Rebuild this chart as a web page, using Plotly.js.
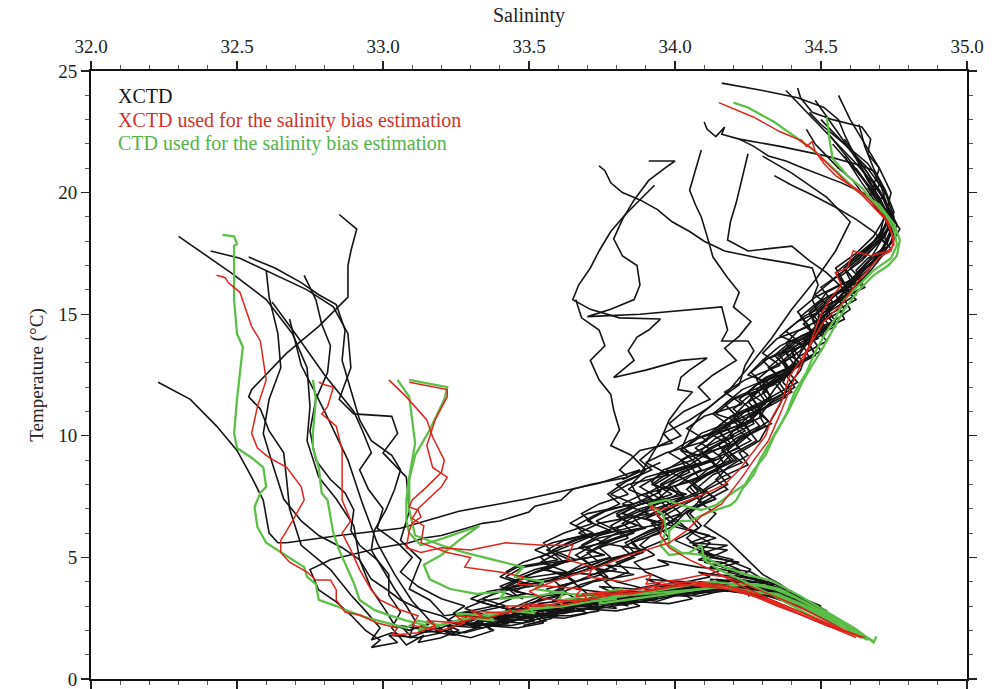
<!DOCTYPE html>
<html>
<head>
<meta charset="utf-8">
<script src="https://cdn.plot.ly/plotly-3.0.1.min.js"></script>
<style>html,body{margin:0;padding:0;background:#fff;}#chart{width:1002px;height:689px;}</style>
</head>
<body>
<div id="chart"></div>
<script>
// ---------- XCTD profiles (black) : salinity / temperature ----------
const xctdL1Sal = [32.30,32.48,32.60,32.69,32.74,32.75,32.74,32.78,32.84,32.90,32.92,32.96,33.01,33.04,33.09,33.16,33.12,33.22,33.30,33.27,33.40,33.52,33.47,33.60,33.70,33.66,33.78,33.86,33.83,33.95,34.05,34.02,34.14,34.22,34.30,34.38,34.35,34.44];
const xctdL1Temp = [18.2,16.7,15.6,14.2,12.8,11.2,9.8,8.3,7.4,6.3,4.9,3.7,2.8,2.2,2.0,2.3,1.9,2.0,2.5,2.2,2.5,2.6,2.9,2.8,3.1,3.3,3.2,3.4,3.6,3.6,3.8,4.0,3.9,4.1,3.8,3.5,3.3,2.9];
const xctdL2Sal = [32.41,32.51,32.74,32.83,32.88,32.89,32.85,32.90,33.03,33.05,33.00,33.08,33.09,33.06,33.13,33.09,33.16,33.21,33.30,33.37,33.33,33.48,33.55,33.52,33.66,33.75,33.72,33.84,33.92,33.90,34.02,34.10,34.08,34.20,34.28,34.25];
const xctdL2Temp = [17.6,17.3,16.0,15.3,14.2,12.8,11.5,10.9,10.8,10.1,9.3,8.3,6.9,5.7,4.9,3.7,3.25,2.6,2.75,2.0,2.4,2.3,2.7,3.0,3.0,3.2,3.4,3.3,3.5,3.7,3.6,3.8,4.0,3.9,3.6,3.4];
const xctdL3Sal = [32.85,32.91,32.89,32.88,32.88,32.78,32.67,32.55,32.54,32.58,32.61,32.66,32.67,32.68,32.72,32.82,32.89,32.94,32.99,32.96,33.03,33.10,33.06,33.15,33.24,33.32,33.28,33.40,33.48,33.45,33.56,33.64];
const xctdL3Temp = [19.1,18.5,17.6,17.0,15.7,14.5,13.4,11.9,11.6,11.1,10.2,9.3,8.2,7.0,5.5,4.5,3.45,2.8,2.1,1.6,1.9,1.7,2.2,2.0,1.8,2.1,2.3,2.2,2.5,2.7,2.6,2.9];
const xctdL4Sal = [32.54,32.63,32.72,32.78,32.84,32.87,32.86,32.89,32.92,32.96,33.03,33.06,33.04,33.01,32.97,32.96,33.00,33.04,33.08,33.11,33.09,33.18,33.25,33.21,33.34,33.44,33.40,33.52,33.60,33.57,33.70,33.78,33.75,33.88,33.96];
const xctdL4Temp = [17.35,16.9,16.3,15.8,15.4,14.35,13.1,11.9,10.65,9.8,9.2,8.6,7.8,6.95,6.1,5.3,4.5,3.7,3.0,2.4,1.7,2.1,1.8,2.3,2.2,2.4,2.6,2.7,2.6,2.9,3.0,3.2,3.4,3.3,3.6];
const xctdL5Sal = [32.60,32.61,32.64,32.65,32.61,32.59,32.62,32.66,32.72,32.78,32.86,32.92,32.96,33.01,33.06,33.13,33.20,33.26,33.35,33.31,33.44,33.58,33.53,33.68,33.78,33.75,33.88,33.96,33.93,34.06,34.15,34.12,34.24,34.32];
const xctdL5Temp = [16.8,15.7,14.2,12.8,11.5,10.1,8.9,7.4,6.5,5.9,5.4,4.9,4.1,3.7,3.25,2.85,2.6,2.2,2.6,2.3,2.8,2.6,3.1,3.3,3.2,3.5,3.6,3.5,3.8,3.9,3.8,4.1,4.0,3.7];
const xctdL6Sal = [32.73,32.77,32.79,32.82,32.81,32.77,32.75,32.77,32.82,32.87,32.90,32.89,32.92,32.98,33.02,33.02,33.06,33.03,33.08,33.14,33.12,33.20,33.26,33.22,33.34,33.42];
const xctdL6Temp = [16.6,15.6,14.6,13.7,12.6,11.5,10.2,9.0,8.2,7.65,6.95,6.1,5.5,4.9,4.3,3.45,2.75,2.1,1.4,1.8,1.5,1.7,2.0,2.2,2.1,2.4];
const xctdL8Sal = [32.23,32.34,32.43,32.50,32.55,32.59,32.61,32.64,32.67,32.85,33.06,33.26,33.49,33.61,33.74,33.88,33.82,33.95];
const xctdL8Temp = [12.2,11.5,10.4,9.4,8.3,7.35,6.0,5.6,5.6,5.9,6.2,6.9,7.4,7.7,8.05,8.6,8.2,8.9];
const xctdL9Sal = [34.30,34.40,34.52,34.60,34.55,34.48,34.40,34.33,34.25,34.18,34.12,34.05,33.96,33.99,33.88,33.81,33.84,33.71,33.65,33.61,33.52,33.50,33.40,33.34,33.30,33.20,33.14,33.09,32.99,32.89,32.82,32.75,32.78,32.84,32.89,32.94,32.99,32.96,33.05,33.02,33.12,33.20];
const xctdL9Temp = [21.5,20.8,19.8,18.8,17.6,16.4,15.2,14.0,12.8,11.8,11.2,10.65,10.1,9.7,9.4,8.6,8.3,8.0,7.8,7.36,7.1,6.87,6.5,6.4,6.25,5.9,5.8,5.6,5.4,5.1,4.9,4.5,3.66,3.17,2.63,2.0,1.6,1.3,1.5,1.8,1.7,1.9];
const xctdL10Sal = [32.62,32.70,32.80,32.90,32.93,32.96,32.92,32.95,33.00,32.98,33.05,33.10,33.06,33.12,33.20,33.28,33.24,33.36,33.46,33.42,33.55,33.64,33.60,33.72,33.82,33.78,33.90,34.00,33.96,34.08,34.18,34.14,34.26];
const xctdL10Temp = [15.5,14.2,12.5,11.0,10.2,9.3,8.6,7.8,7.0,6.2,5.6,5.0,4.4,3.8,3.3,3.0,2.7,2.5,2.6,2.9,2.8,3.0,3.2,3.1,3.3,3.5,3.4,3.6,3.8,3.7,3.9,4.1,3.9];
const xctdL11Sal = [32.68,32.72,32.80,32.88,32.93,32.98,33.04,33.10,33.16,33.22,33.30,33.38,33.35,33.46,33.55,33.52,33.64,33.74,33.70,33.84,33.94,33.90,34.04,34.14,34.22,34.30,34.38,34.46,34.54,34.60];
const xctdL11Temp = [14.8,12.9,11.0,9.0,7.2,5.6,4.3,3.2,2.4,1.9,1.7,2.0,2.2,2.1,2.3,2.6,2.6,2.8,3.1,3.1,3.3,3.5,3.5,3.7,3.7,3.5,3.2,2.8,2.3,2.0];

const xctdB1Sal = [34.16,34.30,34.42,34.51,34.56,34.58,34.60,34.63,34.66,34.70,34.73,34.75,34.72,34.68,34.63,34.58,34.55,34.50,34.48,34.44,34.41,34.38,34.34,34.31,34.28,34.24,34.26,34.19,34.15,34.17,34.10,34.05,34.08,34.00,33.94,33.97,33.88,33.83,33.86,33.78,33.72,33.75,33.66,33.60,33.63,33.55,33.48,33.52,33.44,33.40,33.50,33.46,33.58,33.66,33.62,33.76,33.84,33.80,33.94,34.04,34.00,34.14,34.24,34.33,34.40,34.50,34.56];
const xctdB1Temp = [24.5,24.2,23.9,23.5,23.0,22.4,21.9,21.2,20.5,19.8,19.1,18.5,17.9,17.2,16.6,16.0,15.4,14.8,14.2,13.6,13.0,12.5,11.9,11.4,10.9,10.5,10.1,9.6,9.2,8.8,8.3,7.9,7.5,7.1,6.7,6.3,5.9,5.6,5.2,4.9,4.6,4.3,4.0,3.8,3.5,3.3,3.0,2.8,2.6,2.4,2.5,2.8,2.9,2.8,3.1,3.2,3.0,3.3,3.4,3.6,3.7,3.8,3.7,3.4,3.2,2.7,2.3];
const xctdB2Sal = [34.42,34.43,34.47,34.54,34.64,34.67,34.66,34.70,34.68,34.72,34.74,34.71,34.73,34.66,34.62,34.64,34.57,34.52,34.55,34.47,34.44,34.46,34.39,34.37,34.40,34.32,34.29,34.31,34.22,34.18,34.21,34.12,34.06,34.10,34.02,33.96,34.00,33.92,33.88,33.93,33.86,33.90,33.98,34.05,34.12,34.20,34.26,34.32];
const xctdB2Temp = [24.3,23.9,23.3,23.0,22.7,22.2,21.6,21.0,20.3,19.7,19.0,18.4,17.8,17.3,16.8,16.3,15.8,15.2,14.7,14.2,13.7,13.2,12.7,12.2,11.8,11.3,10.8,10.4,9.9,9.4,9.0,8.5,8.0,7.6,7.1,6.7,6.3,5.9,5.5,5.1,4.8,4.4,4.0,3.8,3.7,3.6,3.5,3.3];
const xctdB3Sal = [34.10,34.11,34.14,34.17,34.16,34.22,34.36,34.52,34.64,34.68,34.70,34.66,34.72,34.74,34.70,34.62,34.58,34.60,34.52,34.48,34.50,34.42,34.38,34.41,34.33,34.28,34.31,34.24,34.20,34.23,34.14,34.09,34.12,34.03,33.98,34.01,33.92,33.86,33.89,33.80,33.74,33.78,33.68,33.62,33.66,33.56,33.60,33.50,33.45,33.40,33.52,33.60,33.70,33.80,33.90,34.00,34.10,34.20,34.30];
const xctdB3Temp = [22.9,22.6,22.3,22.7,22.4,22.2,21.9,21.5,21.1,20.9,20.3,19.8,19.2,18.6,18.0,17.4,16.9,16.4,15.9,15.3,14.8,14.3,13.8,13.3,12.8,12.3,11.8,11.3,10.8,10.4,9.9,9.4,9.0,8.5,8.0,7.6,7.1,6.6,6.2,5.8,5.4,5.0,4.7,4.3,4.0,3.7,3.4,3.1,2.8,2.6,2.7,3.0,3.1,3.3,3.5,3.7,3.9,4.1,3.9];
const xctdB4Sal = [34.22,34.27,34.32,34.38,34.44,34.57,34.66,34.69,34.73,34.70,34.74,34.68,34.62,34.65,34.56,34.52,34.55,34.46,34.41,34.44,34.36,34.30,34.33,34.25,34.20,34.24,34.16,34.10,34.14,34.06,34.00,34.03,33.95,33.90,33.96,33.88,33.82,33.86,33.78,33.74,33.80,33.90,34.00,34.08,34.15,34.22];
const xctdB4Temp = [22.2,21.9,21.5,21.3,21.0,20.4,19.9,19.3,18.8,18.2,17.7,17.2,16.6,16.1,15.6,15.0,14.5,14.0,13.5,13.0,12.5,12.0,11.6,11.1,10.6,10.2,9.7,9.3,8.8,8.4,7.9,7.5,7.0,6.6,6.2,5.8,5.4,5.0,4.6,4.3,4.0,3.7,3.5,3.4,3.6,3.8];
const xctdB5Sal = [34.25,34.23,34.21,34.19,34.18,34.25,34.33,34.40,34.46,34.52,34.58,34.55,34.49,34.52,34.44,34.38,34.41,34.33,34.28,34.31,34.22,34.17,34.20,34.12,34.06,34.09,34.00,33.94,33.98,33.88,33.82,33.86,33.76,33.70,33.74,33.64,33.58,33.62,33.54,33.48,33.42,33.36,33.44,33.52,33.62,33.70,33.80,33.90,34.00,34.10,34.18,34.28,34.36,34.45,34.52];
const xctdB5Temp = [21.6,20.6,19.6,18.8,18.05,17.6,17.7,17.8,17.2,16.7,16.0,15.4,14.9,14.4,13.9,13.4,12.9,12.4,11.9,11.4,10.9,10.4,10.0,9.5,9.0,8.6,8.1,7.7,7.2,6.8,6.4,6.0,5.6,5.2,4.8,4.4,4.1,3.7,3.4,3.1,2.8,2.5,2.4,2.6,2.7,2.9,3.1,3.3,3.5,3.6,3.9,3.8,3.4,3.0,2.6];
const xctdB6Sal = [34.09,34.07,34.05,34.07,34.09,34.11,34.13,34.18,34.22,34.20,34.26,34.22,34.17,34.21,34.13,34.08,34.12,34.03,33.98,34.02,33.93,33.88,33.92,33.83,33.77,33.81,33.72,33.66,33.70,33.60,33.54,33.58,33.48,33.42,33.46,33.38,33.46,33.42,33.55,33.63,33.60,33.72,33.82,33.78,33.92,34.02];
const xctdB6Temp = [21.75,20.9,20.1,19.5,19.0,18.2,17.35,16.5,15.9,15.3,14.7,14.1,13.6,13.1,12.5,12.0,11.5,11.0,10.5,10.0,9.5,9.0,8.6,8.1,7.6,7.2,6.7,6.3,5.9,5.4,5.0,4.6,4.2,3.8,3.4,3.0,2.8,2.5,2.6,2.9,3.1,3.2,3.1,3.4,3.5,3.7];
const xctdB7Sal = [34.46,34.50,34.55,34.60,34.66,34.70,34.72,34.75,34.73,34.70,34.66,34.61,34.57,34.60,34.53,34.47,34.50,34.43,34.38,34.41,34.34,34.29,34.32,34.26,34.21,34.25,34.18,34.14,34.18,34.10,34.05,34.09,34.04,34.08,34.13,34.10,34.17,34.22,34.20,34.28,34.33,34.38,34.44,34.40,34.48,34.55,34.60];
const xctdB7Temp = [23.3,22.8,22.3,21.8,21.2,20.5,19.7,18.9,18.1,17.4,16.8,16.3,15.8,15.2,14.6,14.0,13.5,13.0,12.5,12.0,11.5,11.0,10.6,10.1,9.6,9.2,8.7,8.2,7.8,7.3,6.8,6.3,5.8,5.4,5.1,4.8,4.6,4.4,4.1,3.9,3.6,3.5,3.3,3.4,3.0,2.5,2.1];
const xctdB8Sal = [34.34,34.40,34.47,34.55,34.62,34.68,34.72,34.70,34.64,34.59,34.62,34.54,34.48,34.51,34.42,34.37,34.40,34.31,34.26,34.29,34.20,34.15,34.19,34.10,34.05,34.08,33.99,33.94,33.98,33.90,34.02,34.12,34.05,34.18,34.10,34.20,34.12,34.25,34.30,34.36,34.42,34.50,34.56];
const xctdB8Temp = [20.7,20.3,19.9,19.4,18.9,18.4,17.9,17.3,16.8,16.3,15.8,15.2,14.7,14.2,13.6,13.1,12.6,12.1,11.6,11.1,10.6,10.2,9.7,9.2,8.8,8.3,7.9,7.4,7.0,6.6,6.2,5.9,5.6,5.5,5.2,4.9,4.6,4.3,4.0,3.7,3.3,2.8,2.4];
const xctdB9Sal = [34.58,34.62,34.66,34.70,34.73,34.76,34.74,34.71,34.67,34.63,34.59,34.56,34.58,34.50,34.46,34.48,34.40,34.35,34.38,34.30,34.26,34.29,34.21,34.16,34.19,34.11,34.06,34.10,34.01,33.96,34.00,33.91,33.85,33.88,33.79,33.73,33.77,33.68,33.62,33.66,33.58,33.52,33.56,33.48,33.58,33.55,33.68,33.75,33.72,33.86,33.95,33.92,34.05,34.15,34.12,34.25,34.35,34.42,34.40,34.48];
const xctdB9Temp = [22.2,21.5,20.8,20.1,19.4,18.7,18.0,17.4,16.8,16.3,15.8,15.3,14.8,14.3,13.8,13.3,12.8,12.3,11.8,11.3,10.8,10.4,9.9,9.4,9.0,8.6,8.1,7.7,7.3,6.9,6.5,6.1,5.7,5.3,4.9,4.6,4.2,3.9,3.6,3.3,3.0,2.7,2.4,2.2,2.5,2.7,2.8,3.1,3.2,3.3,3.5,3.6,3.7,3.8,3.9,3.8,3.5,3.1,3.2,2.7];
const xctdB10Sal = [34.70,34.72,34.69,34.74,34.77,34.74,34.69,34.66,34.60,34.58,34.52,34.50,34.45,34.43,34.37,34.39,34.31,34.33,34.25,34.27,34.19,34.22,34.12,34.15,34.05,34.08,33.98,34.02,33.92,33.95,33.85,33.89,33.80,33.84,33.76,33.80,33.72,33.66,33.74,33.84,33.94,34.04,34.14,34.24,34.34];
const xctdB10Temp = [20.5,20.0,19.5,19.0,18.5,17.9,17.3,16.8,16.2,15.7,15.1,14.6,14.0,13.5,13.0,12.5,12.0,11.5,11.0,10.5,10.0,9.5,9.0,8.6,8.1,7.7,7.2,6.8,6.4,6.0,5.6,5.2,4.8,4.4,4.0,3.6,3.3,3.0,2.9,3.1,3.3,3.5,3.7,3.9,3.6];
const xctdB11Sal = [34.45,34.48,34.52,34.56,34.61,34.64,34.69,34.72,34.74,34.71,34.67,34.62,34.64,34.56,34.50,34.53,34.45,34.40,34.43,34.35,34.30,34.33,34.25,34.21,34.26,34.18,34.14,34.19,34.11,34.08,34.14,34.10,34.18,34.25,34.30,34.36,34.42,34.47,34.52,34.58,34.63];
const xctdB11Temp = [22.6,22.0,21.5,21.0,20.5,20.0,19.4,18.9,18.3,17.7,17.1,16.6,16.1,15.5,15.0,14.5,13.9,13.4,12.9,12.3,11.8,11.3,10.8,10.3,9.8,9.3,8.8,8.3,7.8,7.3,6.8,6.3,5.7,4.9,4.3,3.9,3.4,3.1,2.7,2.3,1.9];
const xctdB12Sal = [34.63,34.65,34.68,34.72,34.75,34.73,34.70,34.67,34.63,34.60,34.55,34.51,34.47,34.49,34.41,34.36,34.39,34.30,34.25,34.28,34.19,34.14,34.17,34.08,34.02,34.05,33.96,33.90,33.94,33.84,33.78,33.82,33.72,33.66,33.71,33.62,33.70,33.78,33.86,33.94,34.02];
const xctdB12Temp = [22.8,21.9,21.0,20.1,19.2,18.5,17.9,17.3,16.8,16.3,15.8,15.3,14.8,14.3,13.8,13.3,12.8,12.3,11.8,11.3,10.8,10.3,9.9,9.4,9.0,8.5,8.0,7.6,7.2,6.7,6.3,5.9,5.5,5.1,4.7,4.3,3.5,3.1,3.3,3.2,3.5];
const xctdB13Sal = [34.48,34.55,34.62,34.68,34.73,34.70,34.64,34.56,34.60,34.50,34.44,34.49,34.38,34.32,34.37,34.26,34.20,34.25,34.13,34.07,34.12,34.00,33.93,33.99,33.86,33.80,33.87,33.74,33.68,33.75,33.62,33.56,33.63,33.50,33.45,33.54,33.62,33.58,33.70,33.78,33.74,33.86,33.95,33.90,34.04,34.12,34.08,34.22,34.32,34.28,34.40,34.48];
const xctdB13Temp = [23.8,22.6,21.4,20.2,19.0,18.0,17.2,16.5,15.9,15.2,14.6,14.0,13.4,12.8,12.3,11.7,11.1,10.6,10.0,9.5,9.0,8.5,8.0,7.6,7.1,6.7,6.3,5.9,5.5,5.1,4.8,4.5,4.2,3.9,3.6,3.4,3.5,3.2,3.3,3.6,3.8,3.7,3.9,4.1,4.0,4.2,4.4,4.1,3.9,3.6,3.3,2.9];
const xctdB14Sal = [34.56,34.60,34.65,34.70,34.74,34.72,34.68,34.62,34.55,34.58,34.48,34.42,34.46,34.35,34.30,34.36,34.24,34.17,34.23,34.10,34.04,34.11,33.97,33.90,33.98,33.84,33.78,33.86,33.70,33.64,33.72,33.58,33.52,33.60,33.46,33.40,33.48,33.38,33.32,33.42,33.50,33.46,33.58,33.66,33.62,33.74,33.82,33.78,33.92,34.00,33.96,34.10,34.18,34.14,34.26,34.34,34.42,34.50,34.56];
const xctdB14Temp = [24.0,23.0,22.0,21.0,20.0,19.0,18.2,17.5,16.9,16.3,15.7,15.1,14.5,14.0,13.4,12.9,12.3,11.8,11.3,10.8,10.3,9.8,9.3,8.9,8.4,8.0,7.6,7.2,6.8,6.4,6.0,5.6,5.3,4.9,4.6,4.2,3.9,3.5,3.2,2.9,2.7,2.5,2.7,2.8,3.0,3.1,3.2,3.4,3.5,3.4,3.7,3.8,3.6,3.9,3.7,3.5,3.2,2.8,2.4];
const xctdB15Sal = [34.50,34.58,34.66,34.72,34.75,34.71,34.66,34.60,34.54,34.48,34.53,34.42,34.36,34.44,34.30,34.25,34.34,34.20,34.14,34.24,34.08,34.02,34.14,33.98,33.92,34.04,33.88,33.82,33.96,33.80,33.74,33.90,33.76,33.70,33.86,33.72,33.66,33.80,33.68,33.62,33.76,33.86,33.80,33.96,34.06,34.00,34.16,34.24,34.20,34.32,34.40];
const xctdB15Temp = [23.0,22.0,21.0,20.0,19.0,18.2,17.6,17.0,16.4,15.8,15.3,14.7,14.1,13.7,13.1,12.5,12.1,11.5,10.9,10.5,9.9,9.4,9.0,8.5,8.0,7.6,7.2,6.8,6.4,6.0,5.6,5.3,4.9,4.6,4.3,4.0,3.7,3.5,3.2,3.0,3.1,3.4,3.5,3.6,3.8,3.9,4.0,3.8,3.6,3.4,3.1];
const xctdB16Sal = [34.60,34.66,34.71,34.75,34.73,34.69,34.64,34.58,34.62,34.53,34.48,34.52,34.43,34.38,34.42,34.33,34.28,34.33,34.23,34.18,34.23,34.13,34.08,34.14,34.04,34.00,34.08,34.14,34.06,34.18,34.12,34.22,34.16,34.26,34.30,34.24,34.34,34.40,34.36,34.46,34.52,34.48,34.58,34.62];
const xctdB16Temp = [21.8,20.8,19.8,18.8,18.0,17.3,16.7,16.1,15.6,15.0,14.4,13.9,13.3,12.7,12.2,11.6,11.0,10.5,9.9,9.4,8.9,8.4,7.9,7.4,6.9,6.4,6.0,5.8,5.5,5.3,5.0,4.8,4.6,4.4,4.1,3.9,3.8,3.6,3.4,3.2,2.8,2.7,2.3,2.0];
const xctdB17Sal = [34.38,34.46,34.54,34.62,34.70,34.74,34.70,34.64,34.58,34.62,34.52,34.46,34.50,34.40,34.35,34.40,34.30,34.25,34.30,34.20,34.15,34.20,34.10,34.04,34.10,34.00,34.06,34.12,34.08,34.20,34.26,34.22,34.32,34.38,34.34,34.44,34.50,34.46,34.55,34.60];
const xctdB17Temp = [24.2,23.2,22.2,21.2,20.1,19.0,18.2,17.5,16.9,16.3,15.6,15.0,14.4,13.8,13.2,12.6,12.0,11.4,10.8,10.2,9.6,9.0,8.4,7.8,7.2,6.6,6.0,5.6,5.2,4.8,4.5,4.2,4.0,3.7,3.5,3.3,3.0,2.8,2.5,2.2];
const xctdB18Sal = [34.52,34.60,34.67,34.73,34.70,34.63,34.57,34.50,34.54,34.44,34.38,34.43,34.32,34.26,34.31,34.19,34.13,34.19,34.05,33.98,34.05,33.90,33.84,33.92,33.76,33.70,33.78,33.62,33.56,33.64,33.48,33.42,33.50,33.36,33.30,33.38,33.26,33.22,33.32,33.40,33.36,33.50,33.58,33.54,33.66,33.76,33.72,33.85,33.94,33.90,34.04,34.12,34.20,34.16,34.28,34.36];
const xctdB18Temp = [22.5,21.3,20.1,19.0,18.1,17.3,16.7,16.1,15.5,14.9,14.3,13.8,13.2,12.6,12.1,11.5,10.9,10.4,9.8,9.3,8.8,8.3,7.8,7.4,6.9,6.5,6.1,5.7,5.3,4.9,4.6,4.2,3.9,3.6,3.3,3.0,2.7,2.4,2.2,2.4,2.6,2.5,2.7,2.9,2.8,3.0,3.2,3.1,3.3,3.5,3.4,3.6,3.8,3.9,3.7,3.4];
const xctdB19Sal = [34.62,34.68,34.74,34.72,34.66,34.60,34.64,34.55,34.49,34.54,34.43,34.37,34.43,34.31,34.25,34.31,34.18,34.12,34.19,34.04,33.97,34.05,33.89,33.82,33.91,33.74,33.67,33.76,33.60,33.54,33.63,33.46,33.40,33.49,33.34,33.28,33.36,33.24,33.18,33.28,33.34,33.30,33.44,33.52,33.48,33.62,33.70,33.66,33.80,33.88,33.84,33.98,34.06,34.02,34.16,34.24];
const xctdB19Temp = [21.0,20.0,19.0,18.2,17.5,16.9,16.4,15.8,15.2,14.7,14.1,13.5,13.0,12.4,11.8,11.3,10.7,10.1,9.6,9.1,8.6,8.1,7.6,7.2,6.8,6.4,6.0,5.6,5.2,4.8,4.4,4.1,3.8,3.5,3.2,2.9,2.6,2.3,2.0,1.9,2.1,2.3,2.2,2.4,2.6,2.5,2.7,2.9,2.8,3.0,3.2,3.1,3.3,3.5,3.6,3.8];
const xctdB20Sal = [34.58,34.64,34.70,34.74,34.71,34.65,34.60,34.55,34.58,34.49,34.44,34.48,34.39,34.34,34.38,34.29,34.24,34.28,34.19,34.14,34.18,34.09,34.04,34.08,34.00,34.06,34.12,34.08,34.16,34.22,34.18,34.28,34.34,34.30,34.40,34.46,34.42,34.52,34.57,34.62];
const xctdB20Temp = [21.5,20.4,19.4,18.5,17.7,17.0,16.4,15.8,15.2,14.6,14.0,13.4,12.8,12.2,11.6,11.0,10.4,9.8,9.2,8.6,8.0,7.4,6.8,6.2,5.7,5.4,5.1,4.9,4.8,4.5,4.4,4.1,3.9,3.8,3.4,3.1,3.0,2.6,2.3,2.0];
const xctdB21Sal = [34.66,34.72,34.70,34.64,34.58,34.62,34.52,34.46,34.51,34.40,34.34,34.40,34.28,34.22,34.28,34.15,34.09,34.16,34.02,33.95,34.03,33.88,33.81,33.90,33.74,33.67,33.76,33.60,33.54,33.64,33.50,33.44,33.56,33.64,33.58,33.72,33.80,33.76,33.90,33.98,33.94,34.08,34.16,34.12,34.24,34.32,34.40,34.48,34.54];
const xctdB21Temp = [20.2,19.2,18.2,17.5,16.9,16.3,15.7,15.1,14.5,13.9,13.3,12.7,12.1,11.5,10.9,10.3,9.7,9.1,8.5,8.0,7.5,7.0,6.6,6.2,5.8,5.4,5.1,4.8,4.5,4.3,4.0,3.8,4.0,4.2,4.4,4.3,4.5,4.7,4.5,4.7,4.9,4.6,4.5,4.3,4.2,3.9,3.5,3.0,2.6];
const xctdB22Sal = [34.54,34.62,34.70,34.73,34.68,34.61,34.55,34.59,34.49,34.43,34.47,34.36,34.30,34.35,34.23,34.17,34.22,34.09,34.03,34.09,33.95,33.88,33.95,33.80,33.73,33.80,33.65,33.58,33.66,33.52,33.46,33.55,33.40,33.34,33.42,33.30,33.26,33.34,33.42,33.38,33.50,33.60,33.56,33.70,33.80,33.76,33.90,34.00,33.96,34.10];
const xctdB22Temp = [22.0,20.9,19.8,18.8,18.0,17.3,16.7,16.1,15.5,14.9,14.3,13.7,13.1,12.5,11.9,11.3,10.7,10.1,9.5,8.9,8.4,7.9,7.4,6.9,6.5,6.1,5.7,5.3,4.9,4.5,4.2,3.9,3.6,3.3,3.0,2.7,2.3,2.1,2.3,2.5,2.4,2.6,2.9,3.0,2.9,3.2,3.3,3.5,3.7,3.6];

const xctdW1Sal = [33.74,33.76,33.78,33.82,33.88,33.94,33.99,34.05,34.10,34.17,34.29,34.39,34.47,34.49,34.47,34.50,34.48,34.45,34.43,34.39,34.36,34.33,34.29,34.22,34.25,34.16,34.10,34.14,34.04,34.00,33.95,33.98,33.90,33.85,33.78,33.70,33.62,33.55,33.50,33.58,33.66];
const xctdW1Temp = [21.1,20.9,20.4,20.0,19.7,19.3,18.8,18.4,18.0,17.6,17.3,17.1,16.9,16.2,15.6,14.8,14.1,13.4,12.7,12.1,11.3,10.65,9.8,9.3,8.8,8.3,7.8,7.4,7.0,6.6,6.2,5.8,5.4,5.0,4.6,4.2,3.8,3.4,3.0,2.8,2.9];
const xctdW2Sal = [33.91,34.00,33.97,33.91,33.86,33.82,33.79,33.82,33.87,33.88,33.86,33.78,33.70,33.88,34.16,34.18,34.16,34.25,34.27,34.24,34.22,34.15,34.09,34.05,34.02,34.06,33.96,33.92,33.95,33.86,33.80,33.84,33.74,33.66,33.58,33.62,33.52,33.46,33.40,33.48];
const xctdW2Temp = [21.3,21.3,21.05,20.5,19.7,18.9,18.1,17.4,17.0,16.2,15.6,15.2,14.9,15.0,15.3,14.35,13.9,13.9,13.5,12.9,12.1,11.5,10.9,10.24,9.4,9.0,8.6,8.1,7.7,7.2,6.8,6.4,6.0,5.6,5.2,4.8,4.4,4.0,3.6,3.3];
const xctdW3Sal = [33.93,33.88,33.83,33.78,33.74,33.71,33.67,33.65,33.71,33.81,33.95,33.91,33.87,33.84,33.86,33.79,33.90,34.02,34.11,34.05,34.02,34.01,34.06,34.02,33.98,33.95,33.91,33.88,33.80,33.84,33.74,33.68,33.72,33.62,33.55,33.58,33.48,33.42];
const xctdW3Temp = [20.3,19.7,19.1,18.4,17.6,16.9,16.2,15.6,15.2,14.85,14.8,14.35,14.06,13.5,13.1,12.4,12.7,13.1,13.2,12.7,12.4,11.9,11.8,11.3,10.65,9.8,9.0,8.4,8.0,7.6,7.2,6.8,6.4,6.0,5.6,5.2,4.8,4.4];
const xctdW4Sal = [33.66,33.68,33.74,33.76,33.71,33.74,33.78,33.79,33.81,33.78,33.85,33.90,33.85,33.88,33.95,33.88,33.80,33.84,33.74,33.68,33.72,33.62];
const xctdW4Temp = [15.6,14.85,14.35,13.7,13.1,12.3,11.7,11.06,10.24,9.6,9.2,8.6,8.0,7.36,6.95,6.6,6.2,5.8,5.4,5.0,4.6,4.2];

// ---------- XCTD used for the salinity bias estimation (red) ----------
const biasXctd1Sal = [32.43,32.46,32.47,32.51,32.55,32.58,32.60,32.57,32.55,32.57,32.61,32.67,32.72,32.73,32.69,32.65,32.65,32.68,32.74,32.77,32.82,32.84,32.84,32.87,32.92,32.98,33.05,33.03,33.12,33.18,33.15,33.26,33.34,33.30,33.42,33.50,33.48,33.60,33.68,33.75,33.72,33.85,33.93,34.02,34.10,34.18,34.27,34.35,34.44,34.52,34.60,34.65];
const biasXctd1Temp = [16.6,16.5,16.3,15.9,14.5,13.9,12.3,11.2,10.1,9.5,9.1,8.7,7.9,7.36,6.5,5.7,5.2,4.8,4.4,4.07,4.07,3.66,3.25,2.75,2.63,2.3,2.1,1.8,1.9,2.2,2.4,2.3,2.6,2.8,2.7,2.9,3.1,3.0,3.2,3.4,3.5,3.5,3.7,3.9,3.8,3.7,3.4,3.0,2.6,2.2,1.9,1.7];
const biasXctd2Sal = [32.78,32.80,32.83,32.81,32.79,32.84,32.86,32.86,32.86,32.89,32.86,32.89,32.92,32.96,32.99,33.06,33.12,33.10,33.20,33.28,33.25,33.36,33.44,33.42,33.55,33.63,33.70,33.68,33.80,33.88,33.97,34.06,34.15,34.22,34.30,34.38,34.46,34.54,34.62];
const biasXctd2Temp = [12.2,12.1,12.0,11.2,10.9,10.4,9.4,8.4,7.36,6.5,6.0,5.3,4.5,3.66,3.25,2.84,2.6,2.2,2.0,2.3,2.6,2.5,2.8,3.0,3.0,3.2,3.3,3.5,3.6,3.7,3.9,4.0,3.9,3.7,3.4,3.0,2.6,2.2,1.8];
const biasXctd3Sal = [33.02,33.08,33.15,33.17,33.21,33.20,33.15,33.10,33.09,33.12,33.13,33.10,33.09,33.08,33.13,33.20,33.30,33.42,33.55,33.65,33.63,33.72,33.70,33.82,33.92,33.90,34.02,34.10,34.18,34.26,34.34,34.42,34.50,34.58,34.64];
const biasXctd3Temp = [12.3,11.6,10.65,9.95,9.0,8.5,7.9,7.36,7.07,6.95,6.66,6.4,6.1,5.4,5.2,5.4,5.3,5.6,5.5,5.5,4.9,4.6,4.2,4.0,4.3,3.9,4.1,4.3,4.2,3.8,3.4,3.0,2.5,2.0,1.7];
const biasXctd4Sal = [33.09,33.22,33.22,33.18,33.15,33.17,33.22,33.20,33.12,33.10,33.14,33.13,33.22,33.30,33.28,33.40,33.48,33.46,33.58,33.68,33.66,33.78,33.88,33.96,34.05,34.14,34.22,34.30,34.38,34.46,34.54,34.62];
const biasXctd4Temp = [12.2,11.9,11.6,10.7,9.6,8.7,8.3,7.9,7.0,6.6,6.3,5.6,5.2,5.0,4.6,4.4,4.2,3.9,3.8,3.7,3.4,3.5,3.7,3.9,4.0,3.8,3.6,3.3,2.9,2.5,2.1,1.7];
const biasXctd5Sal = [34.15,34.19,34.27,34.36,34.42,34.47,34.54,34.59,34.64,34.69,34.73,34.74,34.75,34.74,34.70,34.63,34.57,34.51,34.47,34.43,34.40,34.36,34.32,34.27,34.23,34.16,34.09,34.04,33.98,33.90,33.82,33.74,33.66,33.58,33.50,33.55,33.64,33.72,33.80,33.90,34.00,34.10,34.18,34.26,34.35,34.44,34.52,34.60,34.64];
const biasXctd5Temp = [23.7,23.5,23.1,22.5,22.2,21.8,21.0,20.4,20.0,19.4,18.8,18.4,18.05,17.6,17.35,16.4,15.4,14.7,13.9,12.9,12.1,10.9,9.8,9.0,8.3,7.2,6.7,6.1,5.6,5.3,5.0,4.6,4.3,4.0,3.6,3.3,3.2,3.3,3.5,3.6,3.8,3.9,3.8,3.5,3.1,2.6,2.2,1.9,1.7];
const biasXctd6Sal = [34.43,34.45,34.47,34.48,34.51,34.55,34.60,34.64,34.68,34.72,34.74,34.75,34.73,34.67,34.61,34.59,34.55,34.57,34.53,34.50,34.48,34.46,34.43,34.39,34.37,34.33,34.31,34.26,34.22,34.17,34.10,34.05,34.00,33.95,33.91,33.96,33.95,33.98,34.05,34.14,34.22,34.33,34.43,34.53,34.62];
const biasXctd6Temp = [22.2,21.9,22.1,21.7,21.2,20.7,20.3,19.9,19.4,18.9,18.4,17.85,17.6,17.4,17.6,16.9,16.7,16.2,15.6,15.0,14.35,13.7,13.1,12.4,11.55,10.7,10.0,9.2,8.6,8.0,7.6,7.36,7.15,6.95,7.15,6.5,5.9,5.4,4.9,4.4,3.87,3.25,2.75,2.2,1.8];

// ---------- CTD used for the salinity bias estimation (green) ----------
const ctd1Sal = [32.45,32.49,32.50,32.49,32.49,32.50,32.52,32.51,32.50,32.49,32.50,32.55,32.59,32.60,32.58,32.56,32.57,32.60,32.65,32.69,32.73,32.74,32.77,32.78,32.84,32.89,32.95,33.02,33.08,33.12,33.20,33.28,33.25,33.36,33.45,33.52,33.50,33.62,33.72,33.80,33.78,33.90,34.00,34.08,34.18,34.26,34.35,34.45,34.55,34.63,34.68];
const ctd1Temp = [18.26,18.2,17.9,17.8,15.6,14.2,13.65,12.6,11.5,10.1,9.5,9.1,8.7,7.9,7.65,7.07,6.25,5.6,5.2,4.9,4.6,4.2,3.9,3.25,3.0,2.75,2.5,2.3,2.1,2.4,2.2,2.5,2.7,2.6,2.8,2.7,2.9,3.0,3.2,3.3,3.4,3.5,3.6,3.7,3.8,3.6,3.5,3.0,2.4,1.9,1.55];
const ctd2Sal = [32.76,32.77,32.76,32.76,32.78,32.79,32.81,32.83,32.85,32.90,32.92,32.97,33.02,33.08,33.15,33.12,33.22,33.30,33.38,33.35,33.46,33.55,33.62,33.60,33.72,33.82,33.90,34.00,34.08,34.16,34.24,34.33,34.42,34.50,34.58,34.66];
const ctd2Temp = [12.3,11.5,10.1,9.5,8.7,7.65,7.36,6.0,5.3,3.95,3.25,2.84,2.63,2.4,2.2,2.0,2.3,2.5,2.4,2.7,2.8,2.9,3.0,3.2,3.3,3.4,3.6,3.8,3.9,3.8,3.6,3.5,3.1,2.6,2.1,1.6];
const ctd3Sal = [33.05,33.09,33.10,33.11,33.09,33.08,33.08,33.09,33.13,33.21,33.33,33.26,33.20,33.14,33.16,33.23,33.32,33.42,33.40,33.52,33.62,33.60,33.72,33.82,33.80,33.92,34.02,34.12,34.20,34.28,34.36,34.44,34.52,34.60,34.67];
const ctd3Temp = [12.3,11.6,10.65,9.7,8.3,7.36,6.5,6.0,5.5,5.8,6.3,5.7,5.1,4.7,4.1,3.7,3.5,3.6,3.3,3.4,3.6,3.2,3.5,3.7,3.4,3.6,3.8,4.0,3.9,3.9,3.7,3.2,2.65,2.1,1.6];
const ctd4Sal = [33.09,33.22,33.21,33.16,33.11,33.09,33.09,33.11,33.20,33.28,33.38,33.48,33.45,33.55,33.52,33.64,33.76,33.74,33.86,33.98,34.08,34.18,34.26,34.34,34.42,34.50,34.58,34.65];
const ctd4Temp = [12.3,12.0,11.5,10.24,9.2,8.2,6.95,5.9,5.5,5.2,4.9,4.6,4.2,4.0,3.7,3.5,3.4,3.1,3.3,3.5,3.7,3.8,3.9,3.7,3.3,2.8,2.25,1.7];
const ctd5Sal = [34.20,34.25,34.34,34.40,34.47,34.55,34.62,34.70,34.75,34.77,34.76,34.73,34.68,34.63,34.58,34.54,34.51,34.47,34.44,34.42,34.39,34.35,34.32,34.29,34.27,34.23,34.21,34.19,34.12,34.05,34.02,33.98,33.98,34.02,34.09,34.15,34.24,34.33,34.43,34.53,34.62,34.68,34.69];
const ctd5Temp = [23.7,23.5,22.9,22.4,21.8,20.9,20.1,19.5,18.7,18.05,17.4,17.0,16.6,16.0,15.2,14.35,13.7,12.9,12.3,11.8,11.06,10.24,9.6,9.0,8.4,7.8,7.36,7.15,6.87,6.5,6.5,6.1,5.5,5.2,5.1,4.7,4.3,4.05,3.4,2.7,2.05,1.5,1.75];
const ctd6Sal = [34.52,34.53,34.54,34.59,34.64,34.68,34.72,34.75,34.76,34.74,34.68,34.63,34.58,34.55,34.51,34.48,34.45,34.41,34.38,34.34,34.31,34.27,34.24,34.19,34.14,34.09,34.02,33.97,33.91,33.96,33.97,33.95,33.98,34.05,34.09,34.10,34.15,34.24,34.34,34.45,34.55,34.64];
const ctd6Temp = [23.1,22.1,21.4,20.7,20.2,19.6,19.1,18.5,17.85,17.3,16.8,16.2,15.6,14.85,14.1,13.45,12.6,11.8,10.85,10.0,9.2,8.6,8.0,7.6,7.15,6.95,7.15,7.36,7.2,6.75,6.1,5.5,5.1,5.2,5.5,4.9,4.5,4.0,3.4,2.7,2.1,1.7];

// ---------- labels ----------
const xTitle = 'Salininty';
const yTitle = 'Temperature (°C)';
const legendLabels = ['XCTD', 'XCTD used for the salinity bias estimation', 'CTD used for the salinity bias estimation'];

const blackProfiles = [
  [xctdL1Sal, xctdL1Temp], [xctdL2Sal, xctdL2Temp], [xctdL3Sal, xctdL3Temp], [xctdL4Sal, xctdL4Temp],
  [xctdL5Sal, xctdL5Temp], [xctdL6Sal, xctdL6Temp], [xctdL8Sal, xctdL8Temp], [xctdL9Sal, xctdL9Temp],
  [xctdL10Sal, xctdL10Temp], [xctdL11Sal, xctdL11Temp],
  [xctdB1Sal, xctdB1Temp], [xctdB2Sal, xctdB2Temp], [xctdB3Sal, xctdB3Temp], [xctdB4Sal, xctdB4Temp],
  [xctdB5Sal, xctdB5Temp], [xctdB6Sal, xctdB6Temp], [xctdB7Sal, xctdB7Temp], [xctdB8Sal, xctdB8Temp],
  [xctdB9Sal, xctdB9Temp], [xctdB10Sal, xctdB10Temp], [xctdB11Sal, xctdB11Temp], [xctdB12Sal, xctdB12Temp],
  [xctdB13Sal, xctdB13Temp], [xctdB14Sal, xctdB14Temp], [xctdB15Sal, xctdB15Temp], [xctdB16Sal, xctdB16Temp],
  [xctdB17Sal, xctdB17Temp], [xctdB18Sal, xctdB18Temp], [xctdB19Sal, xctdB19Temp], [xctdB20Sal, xctdB20Temp],
  [xctdB21Sal, xctdB21Temp], [xctdB22Sal, xctdB22Temp],
  [xctdW1Sal, xctdW1Temp], [xctdW2Sal, xctdW2Temp], [xctdW3Sal, xctdW3Temp], [xctdW4Sal, xctdW4Temp]
];
const redProfiles = [
  [biasXctd1Sal, biasXctd1Temp], [biasXctd2Sal, biasXctd2Temp], [biasXctd3Sal, biasXctd3Temp],
  [biasXctd4Sal, biasXctd4Temp], [biasXctd5Sal, biasXctd5Temp], [biasXctd6Sal, biasXctd6Temp]
];
const greenProfiles = [
  [ctd1Sal, ctd1Temp], [ctd2Sal, ctd2Temp], [ctd3Sal, ctd3Temp],
  [ctd4Sal, ctd4Temp], [ctd5Sal, ctd5Temp], [ctd6Sal, ctd6Temp]
];

const BLACK = '#141414', RED = '#e0231b', GREEN = '#5cbf48';
const FONT = 'Liberation Serif, "Times New Roman", serif';

function mk(p, color, width) {
  return {type: 'scatter', mode: 'lines', x: p[0], y: p[1],
          line: {color: color, width: width}, hoverinfo: 'skip', showlegend: false};
}
const traces = [];
blackProfiles.forEach(p => traces.push(mk(p, BLACK, 1.6)));
greenProfiles.forEach(p => traces.push(mk(p, GREEN, 2.3)));
redProfiles.forEach(p => traces.push(mk(p, RED, 1.5)));

const legendColors = [BLACK, '#d3302a', '#52b448'];
const legendY = [0.959, 0.919, 0.880];
const annotations = legendLabels.map((t, i) => ({
  text: t, xref: 'paper', yref: 'paper', x: 0.029, y: legendY[i],
  xanchor: 'left', yanchor: 'middle', showarrow: false,
  font: {family: FONT, size: 20, color: legendColors[i]}
}));

const layout = {
  width: 1002, height: 689,
  margin: {l: 91, r: 35, t: 71, b: 10},
  paper_bgcolor: '#ffffff', plot_bgcolor: '#ffffff',
  showlegend: false,
  font: {family: FONT, size: 19, color: '#222'},
  xaxis: {
    range: [32, 35], side: 'top', tick0: 32, dtick: 0.5, tickformat: '.1f',
    ticks: 'outside', ticklen: 8, tickwidth: 1.4, tickcolor: '#222',
    showline: true, linewidth: 2, linecolor: '#111', mirror: 'ticks',
    showgrid: false, zeroline: false, ticklabeloverflow: 'allow',
    minor: {dtick: 0.1, ticks: 'outside', ticklen: 4, tickwidth: 1, tickcolor: '#555', showgrid: false},
    tickfont: {family: FONT, size: 19, color: '#222'},
    title: {text: xTitle, font: {family: FONT, size: 20, color: '#222'}, standoff: 8}
  },
  yaxis: {
    range: [0, 25], tick0: 0, dtick: 5,
    ticks: 'outside', ticklen: 8, tickwidth: 1.4, tickcolor: '#222',
    showline: true, linewidth: 2, linecolor: '#111', mirror: 'ticks',
    showgrid: false, zeroline: false, ticklabeloverflow: 'allow',
    minor: {dtick: 1, ticks: 'outside', ticklen: 4, tickwidth: 1, tickcolor: '#555', showgrid: false},
    tickfont: {family: FONT, size: 19, color: '#222'},
    title: {text: yTitle, font: {family: FONT, size: 19, color: '#222'}, standoff: 10}
  },
  annotations: annotations
};

Plotly.newPlot('chart', traces, layout, {staticPlot: true, displayModeBar: false});
</script>
</body>
</html>
